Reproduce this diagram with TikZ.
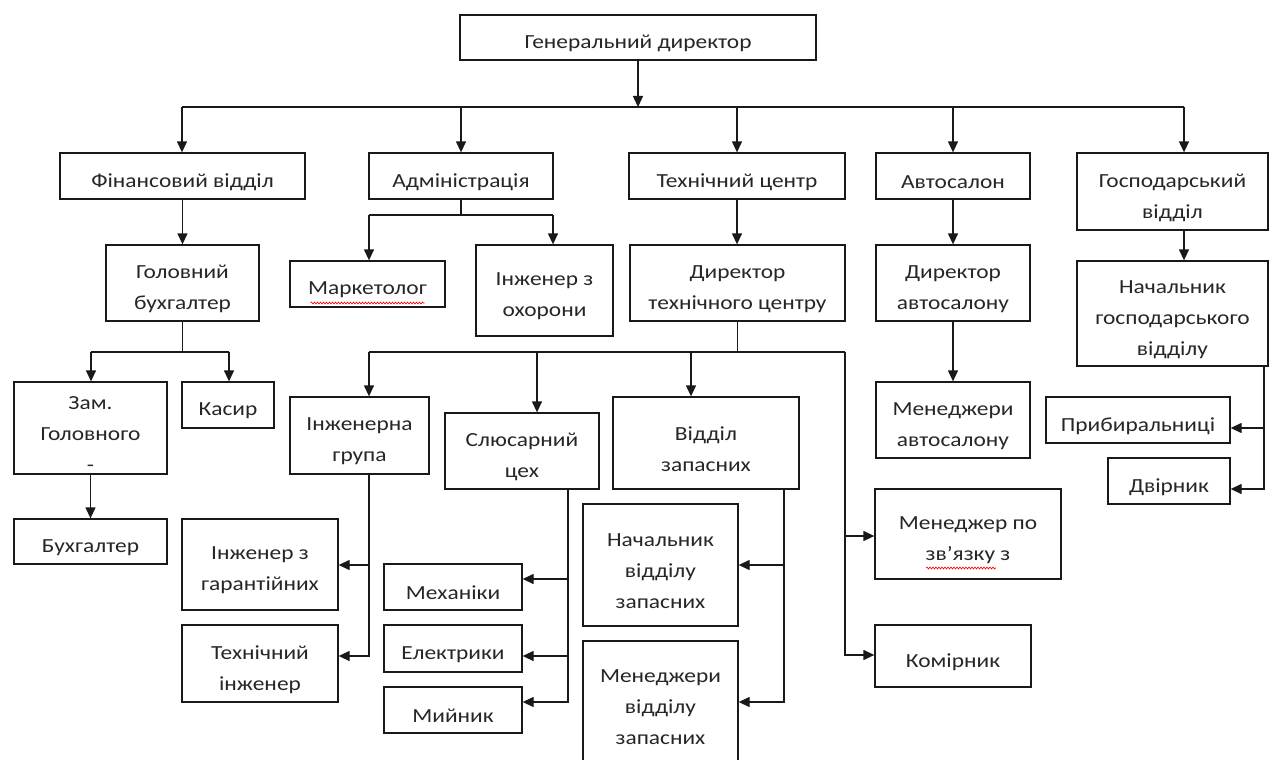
\documentclass[tikz,border=0pt]{standalone}
\usepackage{fontspec}
\setmainfont{Carlito}[FakeStretch=1.17]
\usetikzlibrary{arrows.meta,decorations.pathmorphing}
\newcommand\mybox[6]{\node[bx, minimum width={(#4)-(#2)}, minimum height={(#5)-(#3)}] (#1) at ({((#2)+(#4))/2},{((#3)+(#5))/2}) {};
  \node[txt] (#1-t) at ([yshift=-6pt]#1.center) {#6};}
\begin{document}
\begin{tikzpicture}[x=1pt,y=-1pt,
  bx/.style={draw=black!90, line width=1.3pt, inner sep=0pt},
  txt/.style={align=center, inner sep=0pt, text=black!85, font=\fontsize{20}{31}\selectfont},
  arr/.style={line width=1.3pt, draw=black!90, -{Triangle[length=11pt,width=10pt]}},
  ln/.style={line width=1.3pt, draw=black!90},
  spell/.style={red, line width=0.6pt, decorate, decoration={snake, amplitude=1pt, segment length=3pt}}]
\useasboundingbox (0,0) rectangle (1270,760);
% row 1-2
\mybox{gd}{460}{15}{816}{60}{Генеральний директор}
\mybox{fin}{60}{153}{305}{199}{Фінансовий відділ}
\mybox{adm}{369}{153}{553}{199}{Адміністрація}
\mybox{tc}{629}{153}{845}{199}{Технічний центр}
\mybox{avt}{876}{153}{1030}{199}{Автосалон}
\mybox{gosp}{1077}{153}{1268}{230}{Господарський\\відділ}
% row 3
\mybox{gb}{106}{245}{259}{321}{Головний\\бухгалтер}
\mybox{mark}{290}{261}{445}{307}{Маркетолог}
\mybox{ingohr}{476}{245}{613}{336}{Інженер з\\охорони}
\mybox{dtc}{630}{245}{845}{321}{Директор\\технічного центру}
\mybox{dav}{876}{245}{1030}{321}{Директор\\автосалону}
\mybox{ngosp}{1077}{261}{1268}{366}{Начальник\\господарського\\відділу}
% row 4
\mybox{zam}{14}{382}{167}{474}{Зам.\\Головного\\-}
\mybox{kasyr}{182}{382}{274}{428}{Касир}
\mybox{ingr}{290}{397}{429}{474}{Інженерна\\група}
\mybox{slus}{445}{413}{599}{489}{Слюсарний\\цех}
\mybox{vz}{613}{397}{799}{489}{Відділ\\запасних}
\mybox{mav}{876}{382}{1030}{458}{Менеджери\\автосалону}
\mybox{prib}{1046}{397}{1230}{443}{Прибиральниці}
\mybox{dvir}{1108}{458}{1230}{504}{Двірник}
% lower
\mybox{buh}{14}{519}{167}{564}{Бухгалтер}
\mybox{inggar}{182}{519}{338}{610}{Інженер з\\гарантійних}
\mybox{tekhing}{182}{625}{338}{702}{Технічний\\інженер}
\mybox{mekh}{384}{564}{522}{610}{Механіки}
\mybox{elek}{384}{625}{522}{672}{Електрики}
\mybox{myin}{384}{687}{522}{733}{Мийник}
\mybox{nvz}{583}{504}{738}{626}{Начальник\\відділу\\запасних}
\mybox{mvz}{583}{641}{738}{762}{Менеджери\\відділу\\запасних}
\mybox{mzv}{875}{489}{1061}{579}{Менеджер по\\зв’язку з}
\mybox{komir}{875}{625}{1031}{687}{Комірник}
% spell-check marks
\draw[spell] ([xshift=-57pt,yshift=-13pt]mark-t.center) -- ([xshift=57pt,yshift=-13pt]mark-t.center);
\draw[spell] ([xshift=-42pt,yshift=-28pt]mzv-t.center) -- ([xshift=28pt,yshift=-28pt]mzv-t.center);
% top bus
\coordinate (b0) at (0,107);
\coordinate (bL) at (182,107);
\coordinate (bR) at (1184,107);
\draw[arr] (gd.south) -- (gd.south |- b0);
\draw[ln] (bL) -- (bR);
\draw[arr] (bL) -- (bL |- fin.north);
\draw[arr] (adm.north |- b0) -- (adm.north);
\draw[arr] (tc.north |- b0) -- (tc.north);
\draw[arr] (avt.north |- b0) -- (avt.north);
\draw[arr] (bR) -- (bR |- gosp.north);
% second level
\draw[arr] (fin.south) -- (gb.north);
\coordinate (a1) at (369,215);
\coordinate (a2) at (553,215);
\draw[ln] (adm.south) -- (adm.south |- a1);
\draw[ln] (a1) -- (a2);
\draw[arr] (a1) -- (a1 |- mark.north);
\draw[arr] (a2) -- (a2 |- ingohr.north);
\draw[arr] (tc.south) -- (tc.south |- dtc.north);
\draw[arr] (avt.south) -- (avt.south |- dav.north);
\draw[arr] (bR |- gosp.south) -- (bR |- ngosp.north);
% головний бухгалтер
\coordinate (g1) at (91,352);
\coordinate (g2) at (229,352);
\draw[ln] (gb.south) -- (gb.south |- g1);
\draw[ln] (g1) -- (g2);
\draw[arr] (g1) -- (g1 |- zam.north);
\draw[arr] (g2) -- (g2 |- kasyr.north);
\draw[arr] (zam.south) -- (buh.north);
% директор технічного центру
\coordinate (t1) at (369,352);
\coordinate (t2) at (537,352);
\coordinate (t3) at (691,352);
\coordinate (t4) at (845,352);
\coordinate (t5) at (845,536);
\coordinate (t6) at (845,655);
\draw[ln] (dtc.south) -- (dtc.south |- t1);
\draw[ln] (t1) -- (t4);
\draw[arr] (t1) -- (t1 |- ingr.north);
\draw[arr] (t2) -- (t2 |- slus.north);
\draw[arr] (t3) -- (t3 |- vz.north);
\draw[arr] (t4) -- (t6) -- (t6 -| komir.west);
\draw[arr] (t5) -- (t5 -| mzv.west);
% автосалон
\draw[arr] (dav.south) -- (dav.south |- mav.north);
% господарський
\coordinate (n1) at (1264,366);
\coordinate (n2) at (1264,428);
\coordinate (n3) at (1264,489);
\draw[arr] (n1) -- (n3) -- (n3 -| dvir.east);
\draw[arr] (n2) -- (n2 -| prib.east);
% інженерна група
\coordinate (i1) at (369,474);
\coordinate (i2) at (369,565);
\coordinate (i3) at (369,656);
\draw[arr] (i1) -- (i3) -- (i3 -| tekhing.east);
\draw[arr] (i2) -- (i2 -| inggar.east);
% слюсарний цех
\coordinate (s1) at (568,489);
\coordinate (s2) at (568,579);
\coordinate (s3) at (568,656);
\coordinate (s4) at (568,702);
\draw[arr] (s1) -- (s4) -- (s4 -| myin.east);
\draw[arr] (s2) -- (s2 -| mekh.east);
\draw[arr] (s3) -- (s3 -| elek.east);
% відділ запасних
\coordinate (v1) at (784,489);
\coordinate (v2) at (784,565);
\coordinate (v3) at (784,702);
\draw[arr] (v1) -- (v3) -- (v3 -| mvz.east);
\draw[arr] (v2) -- (v2 -| nvz.east);
\end{tikzpicture}
\end{document}
